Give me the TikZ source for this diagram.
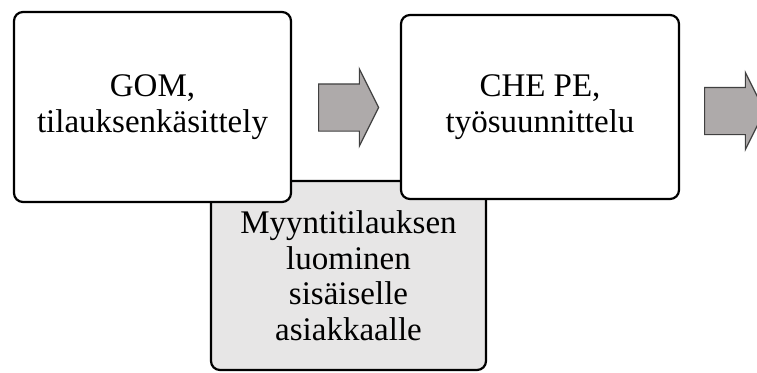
\documentclass[tikz,border=0pt]{standalone}
\usepackage{fontspec}
\setmainfont{Liberation Serif}
\usetikzlibrary{shapes.arrows}
\definecolor{ArrowFill}{RGB}{174,170,170}
\definecolor{ArrowLine}{RGB}{64,64,64}
\definecolor{TaskBg}{RGB}{231,230,230}
\tikzset{
  phase/.style={rectangle,rounded corners=9pt,draw=black,fill=white,line width=2.2pt,
                align=center,font=\fontsize{33}{35.5}\selectfont,inner sep=0pt},
  task/.style={phase,fill=TaskBg},
  flowarrow/.style={single arrow,draw=ArrowLine,fill=ArrowFill,line width=1.2pt,
                    minimum height=60pt,inner xsep=0pt,inner ysep=23pt,anchor=tail,
                    single arrow head extend=15pt,single arrow tip angle=127},
}
\begin{document}
\begin{tikzpicture}[x=1pt,y=-1pt]
  \clip (0,0) rectangle (757,372);
  % sub task below, partly hidden by the phases
  \node[task,minimum width=275pt,minimum height=189pt] (order) at (348.5,275.5)
    {Myyntitilauksen\\luominen\\sisäiselle\\asiakkaalle};
  \node[phase,minimum width=277pt,minimum height=190pt] (gom) at (152.5,107)
    {GOM,\\tilauksenkäsittely};
  \node[phase,minimum width=278pt,minimum height=184pt] (che) at (540,107)
    {CHE PE,\\työsuunnittelu};
  %
  \node[flowarrow] (arr1) at (318,107.5) {};
  \node[flowarrow] (arr2) at (704,111) {};
\end{tikzpicture}
\end{document}
